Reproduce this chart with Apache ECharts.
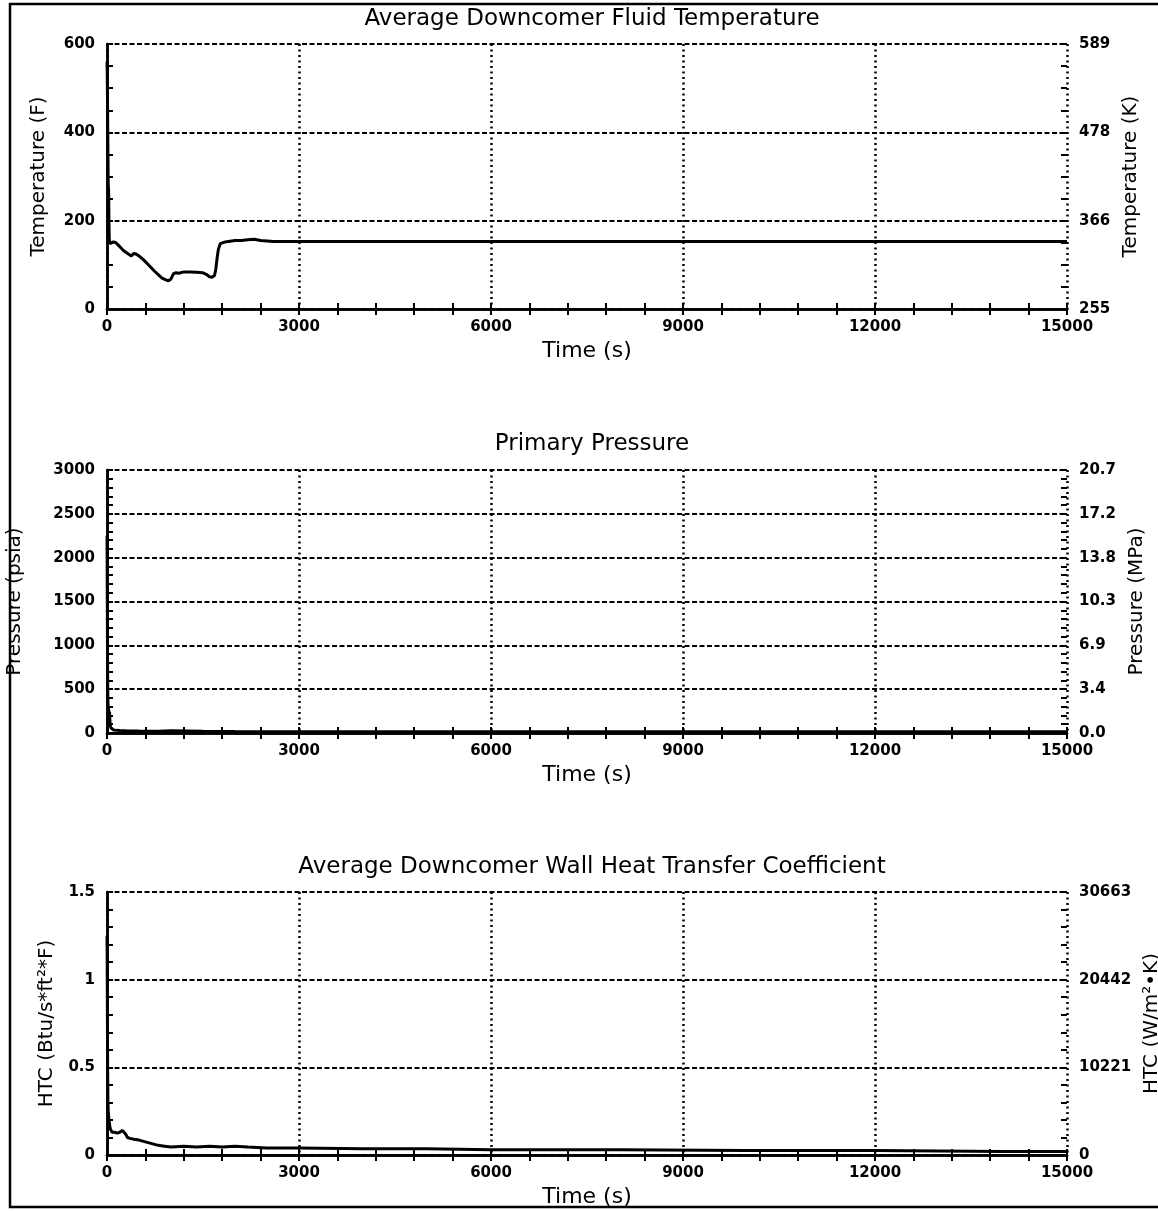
<!DOCTYPE html>
<html>
<head>
<meta charset="utf-8">
<script src="https://cdn.jsdelivr.net/npm/echarts@6/dist/echarts.min.js"></script>
<style>html,body{margin:0;padding:0;background:#fff}#c{width:1158px;height:1211px}</style>
</head>
<body>
<div id="c"></div>
<script>
// ---- data ----
const titles = ['Average Downcomer Fluid Temperature', 'Primary Pressure', 'Average Downcomer Wall Heat Transfer Coefficient'];
const xTickLabels = ['0', '3000', '6000', '9000', '12000', '15000'];

const tempTime = [0, 3, 6, 9, 12, 15, 18, 21, 24, 27, 30, 35, 45, 70, 100, 140, 180, 220, 260, 300, 340, 380, 420, 460, 500, 560, 620, 680, 740, 800, 860, 920, 960, 1000, 1040, 1080, 1120, 1200, 1300, 1400, 1500, 1560, 1600, 1640, 1680, 1700, 1720, 1740, 1770, 1800, 1850, 1900, 2000, 2100, 2200, 2300, 2400, 2600, 3000, 4000, 6000, 8000, 10000, 12000, 15000];
const tempF = [560, 540, 500, 450, 400, 350, 300, 260, 275, 250, 200, 160, 148, 150, 152, 150, 144, 138, 132, 128, 124, 120, 126, 124, 120, 113, 104, 95, 86, 78, 70, 66, 64, 68, 80, 82, 81, 84, 84, 83, 82, 78, 73, 72, 76, 90, 115, 135, 148, 151, 152, 153, 155, 155, 157, 158, 155, 153, 153, 153, 153, 153, 153, 153, 153];
const tempLeftLabels = ['0', '200', '400', '600'];
const tempRightLabels = ['255', '366', '478', '589'];

const presTime = [0, 2, 4, 6, 8, 10, 12, 15, 18, 22, 26, 30, 35, 40, 45, 50, 60, 80, 100, 150, 200, 300, 500, 800, 1000, 1500, 2000, 3000, 5000, 8000, 10000, 12000, 15000];
const presPsia = [2250, 2000, 1600, 1200, 900, 650, 480, 350, 300, 280, 300, 250, 200, 240, 150, 90, 60, 40, 35, 30, 28, 25, 22, 20, 25, 20, 18, 15, 15, 14, 14, 13, 13];
const presLeftLabels = ['0', '500', '1000', '1500', '2000', '2500', '3000'];
const presRightLabels = ['0.0', '3.4', '6.9', '10.3', '13.8', '17.2', '20.7'];

const htcTime = [0, 3, 6, 10, 15, 20, 30, 50, 80, 120, 160, 200, 240, 270, 290, 320, 360, 420, 500, 600, 700, 800, 900, 1000, 1200, 1400, 1600, 1800, 2000, 2200, 2500, 3000, 4000, 5000, 6000, 8000, 10000, 12000, 14000, 15000];
const htcVal = [1.25, 1.1, 0.8, 0.5, 0.3, 0.25, 0.2, 0.15, 0.13, 0.13, 0.125, 0.13, 0.14, 0.15, 0.12, 0.1, 0.095, 0.09, 0.085, 0.075, 0.065, 0.055, 0.05, 0.045, 0.05, 0.045, 0.05, 0.045, 0.05, 0.045, 0.04, 0.04, 0.035, 0.035, 0.03, 0.03, 0.025, 0.025, 0.02, 0.02];
const htcLeftLabels = ['0', '0.5', '1', '1.5'];
const htcRightLabels = ['0', '10221', '20442', '30663'];

// ---- layout ----
const FONT = 'DejaVu Sans';
const grids = [
  { left: 107, width: 960, top: 44, height: 265, outerBoundsMode: 'none', containLabel: false },
  { left: 107, width: 960, top: 470, height: 263, outerBoundsMode: 'none', containLabel: false },
  { left: 107, width: 960, top: 892, height: 263, outerBoundsMode: 'none', containLabel: false }
];
const titleTops = [3, 428, 851];

const panels = [
  { yMax: 600, yInt: 200, yMinor: 50, left: tempLeftLabels, right: tempRightLabels, lName: 'Temperature (F)', rName: 'Temperature (K)', lGap: 58, rGap: 48, x: tempTime, y: tempF },
  { yMax: 3000, yInt: 500, yMinor: 100, left: presLeftLabels, right: presRightLabels, lName: 'Pressure (psia)', rName: 'Pressure (MPa)', lGap: 82, rGap: 55, x: presTime, y: presPsia },
  { yMax: 1.5, yInt: 0.5, yMinor: 0.1, left: htcLeftLabels, right: htcRightLabels, lName: 'HTC (Btu/s*ft²*F)', rName: 'HTC (W/m²•K)', lGap: 50, rGap: 72, x: htcTime, y: htcVal }
];

const tickLabelStyle = { color: '#000', fontFamily: FONT, fontWeight: 'bold', fontSize: 15 };
const nameStyle = { color: '#000', fontFamily: FONT, fontSize: 20 };
const axLine = { show: true, lineStyle: { color: '#000', width: 2.5 } };
const noLine = { show: false };
const tick = { show: true, inside: true, length: 6, lineStyle: { color: '#000', width: 2 } };
const noTick = { show: false };

const xAxes = [], yAxes = [], series = [], title = [];
panels.forEach((p, i) => {
  title.push({ text: titles[i], left: 587, top: titleTops[i], textAlign: 'center',
    textStyle: { color: '#000', fontFamily: FONT, fontWeight: 'normal', fontSize: 23 } });
  // x: labels + gridlines
  xAxes.push({ type: 'value', gridIndex: i, position: 'bottom', min: 0, max: 15000, interval: 3000,
    name: 'Time (s)', nameLocation: 'middle', nameGap: 31, nameTextStyle: Object.assign({}, nameStyle, { fontSize: 22 }),
    axisLine: axLine, axisTick: noTick,
    axisLabel: Object.assign({ margin: 11, formatter: (v, k) => xTickLabels[k] }, tickLabelStyle),
    splitLine: { show: true, lineStyle: { color: '#000', width: 2.5, type: [2, 3.5] } } });
  // x: bottom ticks
  xAxes.push({ type: 'value', gridIndex: i, position: 'bottom', min: 0, max: 15000, interval: 600,
    axisLine: noLine, axisTick: tick, axisLabel: { show: false }, splitLine: { show: false } });
  // x: top frame + ticks
  xAxes.push({ type: 'value', gridIndex: i, position: 'top', min: 0, max: 15000, interval: 600,
    axisLine: axLine, axisTick: tick, axisLabel: { show: false }, splitLine: { show: false } });
  // y left labels + gridlines
  yAxes.push({ type: 'value', gridIndex: i, position: 'left', min: 0, max: p.yMax, interval: p.yInt,
    name: p.lName, nameLocation: 'middle', nameGap: p.lGap, nameTextStyle: nameStyle,
    axisLine: axLine, axisTick: noTick,
    axisLabel: Object.assign({ margin: 12, formatter: (v, k) => p.left[k] }, tickLabelStyle),
    splitLine: { show: true, lineStyle: { color: '#000', width: 2.2, type: [5, 2.5] } } });
  // y left ticks
  yAxes.push({ type: 'value', gridIndex: i, position: 'left', min: 0, max: p.yMax, interval: p.yMinor,
    axisLine: noLine, axisTick: tick, axisLabel: { show: false }, splitLine: { show: false } });
  // y right labels
  yAxes.push({ type: 'value', gridIndex: i, position: 'right', min: 0, max: p.yMax, interval: p.yInt,
    name: p.rName, nameLocation: 'middle', nameGap: p.rGap, nameTextStyle: nameStyle,
    axisLine: axLine, axisTick: noTick,
    axisLabel: Object.assign({ margin: 12, formatter: (v, k) => p.right[k] }, tickLabelStyle),
    splitLine: { show: false } });
  // y right ticks
  yAxes.push({ type: 'value', gridIndex: i, position: 'right', min: 0, max: p.yMax, interval: p.yMinor,
    axisLine: noLine, axisTick: tick, axisLabel: { show: false }, splitLine: { show: false } });
  series.push({ type: 'line', xAxisIndex: 3 * i, yAxisIndex: 4 * i, showSymbol: false, symbol: 'none',
    lineStyle: { color: '#000', width: 3 }, data: p.x.map((t, k) => [t, p.y[k]]), z: 5, animation: false });
});

const chart = echarts.init(document.getElementById('c'), null, { renderer: 'canvas' });
chart.setOption({
  backgroundColor: '#fff',
  animation: false,
  title: title,
  grid: grids,
  xAxis: xAxes,
  yAxis: yAxes,
  series: series,
  graphic: [{ type: 'rect', shape: { x: 10, y: 4, width: 1170, height: 1203 },
    style: { fill: null, stroke: '#000', lineWidth: 2.5 }, z: -1, silent: true }]
});
</script>
</body>
</html>
